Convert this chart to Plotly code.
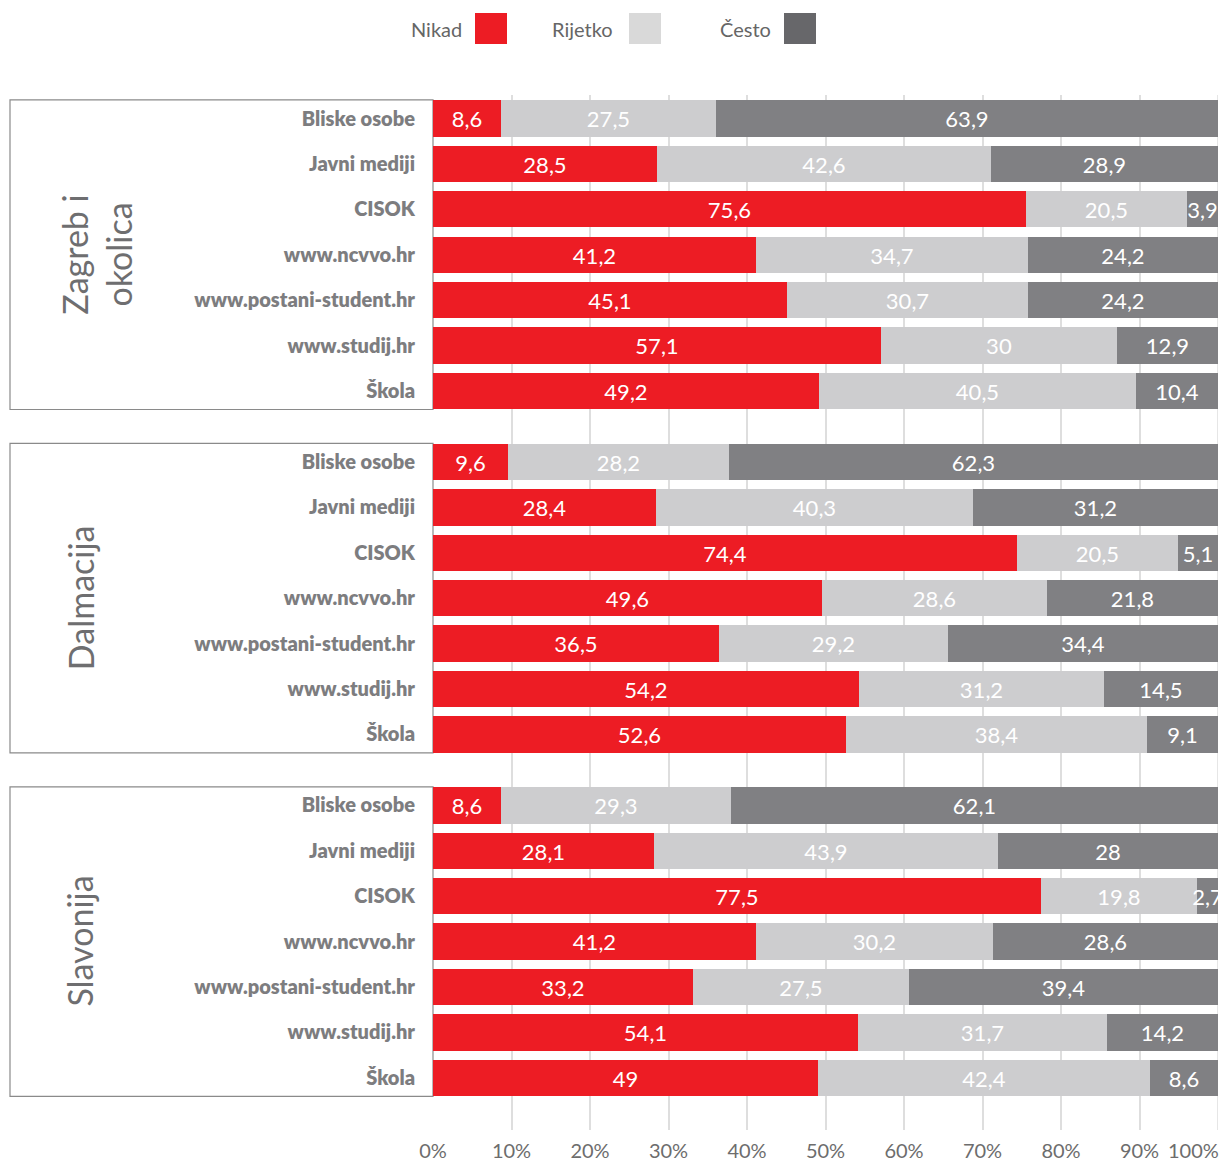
import plotly.graph_objects as go

# ---------------- data ----------------
regions = ["Zagreb i<br>okolica", "Dalmacija", "Slavonija"]
categories = ["Bliske osobe", "Javni mediji", "CISOK", "www.ncvvo.hr",
              "www.postani-student.hr", "www.studij.hr", "Škola"]
series_names = ["Nikad", "Rijetko", "Često"]

# values per region (Zagreb i okolica, Dalmacija, Slavonija), 7 categories each
nikad = [8.6, 28.5, 75.6, 41.2, 45.1, 57.1, 49.2,
         9.6, 28.4, 74.4, 49.6, 36.5, 54.2, 52.6,
         8.6, 28.1, 77.5, 41.2, 33.2, 54.1, 49]
rijetko = [27.5, 42.6, 20.5, 34.7, 30.7, 30, 40.5,
           28.2, 40.3, 20.5, 28.6, 29.2, 31.2, 38.4,
           29.3, 43.9, 19.8, 30.2, 27.5, 31.7, 42.4]
cesto = [63.9, 28.9, 3.9, 24.2, 24.2, 12.9, 10.4,
         62.3, 31.2, 5.1, 21.8, 34.4, 14.5, 9.1,
         62.1, 28, 2.7, 28.6, 39.4, 14.2, 8.6]
x_ticks = [0, 10, 20, 30, 40, 50, 60, 70, 80, 90, 100]

# ---------------- style ----------------
bar_colors = ["#ED1C24", "#CDCDCF", "#808083"]
legend_colors = ["#ED1C24", "#D9D9D9", "#67676A"]
W, H = 1224, 1162
ML, MR, MT, MB = 433, 6, 95, 32
GROUP_PITCH = 7.565
ROW_PX = 45.4
FIRST_ROW_PX = 118.5

n_cat = len(categories)
ypos = [g * GROUP_PITCH + i for g in range(len(regions)) for i in range(n_cat)]
ticktext = categories * len(regions)

def fmt(v):
    return ("%g" % v).replace(".", ",")

fig = go.Figure()
for name, vals, col in zip(series_names, [nikad, rijetko, cesto], bar_colors):
    fig.add_trace(go.Bar(
        x=vals, y=ypos, orientation="h", name=name, width=0.8,
        marker=dict(color=col, line=dict(width=0)),
        text=[fmt(v) for v in vals],
        textposition="inside", insidetextanchor="middle", textangle=0,
        constraintext="none", cliponaxis=False,
        textfont=dict(family="Lato", size=22, color="white"),
        showlegend=False, hoverinfo="skip",
    ))

y_top = (MT - FIRST_ROW_PX) / ROW_PX
y_bot = (H - MB - FIRST_ROW_PX) / ROW_PX

plot_w = W - ML - MR
plot_h = H - MT - MB

def px_x(px):
    return (px - ML) / plot_w

def px_y(py):
    return (H - MB - py) / plot_h

shapes = []
annotations = []
for g, reg in enumerate(regions):
    shapes.append(dict(type="rect", xref="paper", yref="y",
                       x0=px_x(10), x1=0,
                       y0=g * GROUP_PITCH - 0.41, y1=g * GROUP_PITCH + n_cat - 1 + 0.41,
                       line=dict(color="#8a8a8a", width=1.2), layer="below"))
    annotations.append(dict(xref="paper", yref="y", x=px_x(97 if "<br>" in reg else 80),
                            y=g * GROUP_PITCH + (n_cat - 1) / 2,
                            text=reg, textangle=-90, showarrow=False,
                            xanchor="center", yanchor="middle",
                            font=dict(family="Lato", size=34, color="#6e6e70")))

# custom legend (text left of square)
legend_text_right = [464, 615, 773]
legend_sq_left = [475, 629, 784]
for name, tx, sx, col in zip(series_names, legend_text_right, legend_sq_left, legend_colors):
    annotations.append(dict(xref="paper", yref="paper", x=px_x(tx), y=px_y(29),
                            text=name, showarrow=False, xanchor="right", yanchor="middle",
                            font=dict(family="Lato", size=20, color="#666666")))
    shapes.append(dict(type="rect", xref="paper", yref="paper",
                       x0=px_x(sx), x1=px_x(sx + 32), y0=px_y(44), y1=px_y(13),
                       fillcolor=col, line=dict(width=0)))

# the last x tick label is kept inside the page (right-aligned at the edge)
tick_labels = [f"{t}%" for t in x_ticks]
annotations.append(dict(xref="x", yref="paper", x=x_ticks[-1], y=0,
                        text=tick_labels[-1], showarrow=False,
                        xanchor="right", yanchor="middle", xshift=3, yshift=-20,
                        font=dict(family="Lato", size=20, color="#6d6d6d")))
# gridline at 100% (its tick label is the annotation above)
shapes.append(dict(type="line", xref="x", yref="paper", x0=x_ticks[-1], x1=x_ticks[-1],
                   y0=0, y1=1, line=dict(color="#dedede", width=1.5), layer="below"))

fig.update_layout(
    width=W, height=H,
    margin=dict(l=ML, r=MR, t=MT, b=MB, autoexpand=False),
    barmode="stack", barnorm="percent", bargap=0,
    plot_bgcolor="white", paper_bgcolor="white",
    xaxis=dict(range=[0, 100], tickvals=x_ticks[:-1], ticktext=tick_labels[:-1],
               showgrid=True, gridcolor="#dedede", gridwidth=1.5, automargin=False,
               zeroline=False, showline=False, ticks="", ticklabelstandoff=7,
               tickfont=dict(family="Lato", size=20, color="#6d6d6d")),
    yaxis=dict(range=[y_bot, y_top], tickvals=ypos, ticktext=ticktext,
               showgrid=False, zeroline=False, showline=False, ticks="",
               ticklabelstandoff=17, automargin=False,
               tickfont=dict(family="Lato", size=20, color="#7d7d7f", weight=800)),
    shapes=shapes, annotations=annotations,
    uniformtext=dict(mode=False),
)

fig.write_html("out.html", config={"displayModeBar": False},
               post_script="document.body.style.margin='0';document.body.style.overflow='hidden';")
